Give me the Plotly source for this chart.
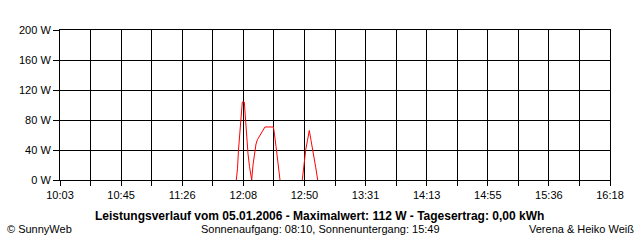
import plotly.graph_objects as go

# Read values (time of day, power in W); None = gap
times = ["12:03:12", "12:04:01", "12:04:42", "12:05:23", "12:06:04", "12:06:45", "12:07:18",
         "12:08:40", "12:09:20", "12:10:10", "12:11:11", "12:12:12", "12:13:14", "12:13:42",
         "12:14:35", "12:15:37", "12:16:38", "12:17:40", "12:18:53", "12:20:31", "12:21:37",
         "12:22:46", "12:28:26", "12:28:55", "12:30:16", "12:31:38", "12:33:00",
         None,
         "12:48:12", "12:49:22", "12:50:31", "12:51:45", "12:52:59", "12:54:08", "12:55:42",
         "12:57:20", "12:58:42"]
power = [0, 15, 40, 60, 80, 95, 104,
         104, 85, 60, 35, 18, 5, 0,
         20, 38, 48, 54, 58, 64, 68,
         70.7, 70.7, 66, 45, 22, 0,
         None,
         0, 22, 40, 53, 66, 53, 37,
         17, 0]

x_tick_labels = ["10:03", "10:45", "11:26", "12:08", "12:50", "13:31", "14:13", "14:55", "15:36", "16:18"]
y_ticks = [0, 40, 80, 120, 160, 200]
y_tick_labels = ["0 W", "40 W", "80 W", "120 W", "160 W", "200 W"]

title_text = "Leistungsverlauf vom 05.01.2006 - Maximalwert: 112 W - Tagesertrag: 0,00 kWh"
left_text = "© SunnyWeb"
center_text = "Sonnenaufgang: 08:10, Sonnenuntergang: 15:49"
right_text = "Verena & Heiko Weiß"


def to_min(t):
    if t is None:
        return None
    h, m, s = (int(v) for v in t.split(":"))
    return h * 60 + m + s / 60.0


xs = [to_min(t) for t in times]

start = 10 * 60 + 3
end = 16 * 60 + 18
n_minor = 18
step = (end - start) / n_minor
tickvals = [start + i * step for i in range(n_minor + 1)]
ticktext = [x_tick_labels[i // 2] if i % 2 == 0 else "" for i in range(n_minor + 1)]

fig = go.Figure()
fig.add_trace(go.Scatter(x=xs, y=power, mode="lines", line=dict(color="#ff0000", width=1),
                         connectgaps=False, hoverinfo="skip"))

font = dict(family="Liberation Sans, Arial, sans-serif", size=11, color="black")
title_font = dict(family="Liberation Sans, Arial, sans-serif", size=12, color="black")

fig.update_layout(
    width=640, height=240,
    margin=dict(l=60, r=30, t=30, b=60),
    paper_bgcolor="white", plot_bgcolor="white",
    showlegend=False,
    font=font,
    xaxis=dict(range=[start, end], tickmode="array", tickvals=tickvals, ticktext=ticktext,
               showgrid=True, gridcolor="black", gridwidth=1, zeroline=False,
               showline=True, linecolor="black", linewidth=1, mirror=True,
               ticks="outside", ticklen=5, tickcolor="black", tickfont=font),
    yaxis=dict(range=[0, 200], tickmode="array", tickvals=y_ticks, ticktext=y_tick_labels,
               showgrid=True, gridcolor="black", gridwidth=1, zeroline=False,
               showline=True, linecolor="black", linewidth=1, mirror=True,
               ticks="outside", ticklen=6, tickcolor="black", tickfont=font),
)


def px_x(px):
    return (px - 60) / 550.0


def px_y(py):
    return (180 - py) / 150.0


fig.add_annotation(text="<b>" + title_text + "</b>", x=px_x(319), y=px_y(216), xref="paper", yref="paper",
                   showarrow=False, xanchor="center", yanchor="middle", font=title_font)
fig.add_annotation(text=left_text, x=px_x(5), y=px_y(229), xref="paper", yref="paper",
                   showarrow=False, xanchor="left", yanchor="middle", font=font)
fig.add_annotation(text=center_text, x=px_x(320), y=px_y(229), xref="paper", yref="paper",
                   showarrow=False, xanchor="center", yanchor="middle", font=font)
fig.add_annotation(text=right_text, x=px_x(636), y=px_y(229), xref="paper", yref="paper",
                   showarrow=False, xanchor="right", yanchor="middle", font=font)

fig.write_html("out.html")
